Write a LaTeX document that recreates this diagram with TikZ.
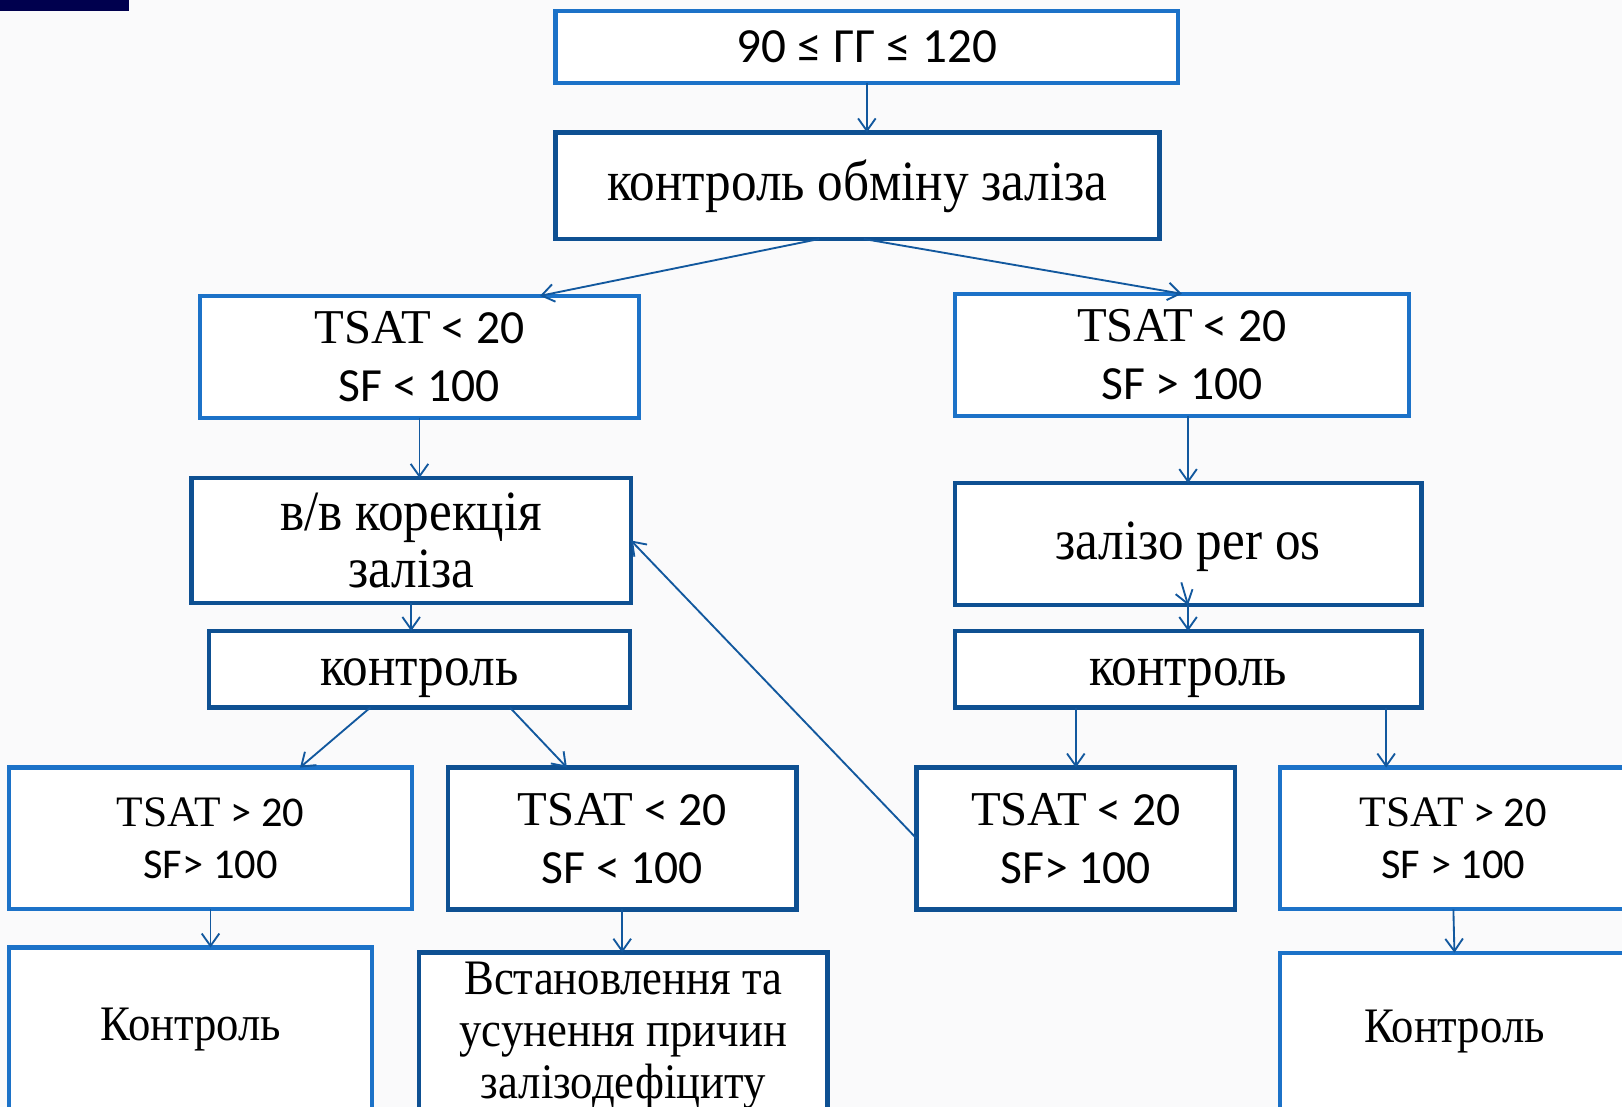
\documentclass[tikz,border=0pt]{standalone}
\usepackage{fontspec}
\setmainfont{Liberation Serif}[FakeStretch=0.9]
\newfontfamily\tsfont{Liberation Serif}
\newfontfamily\calib{Carlito}
\usepackage{tikz}
\usetikzlibrary{arrows.meta}

\definecolor{lblue}{RGB}{28,114,200}
\definecolor{dblue}{RGB}{14,80,146}
\definecolor{arrblue}{RGB}{18,88,158}
\definecolor{navy}{RGB}{0,0,78}
\definecolor{bgpaper}{RGB}{250,250,251}

\newcommand{\tsbig}[2]{{\tsfont\fontsize{47}{56}\selectfont TSAT}{\calib\fontsize{46}{56}\selectfont\ #1}\\{\calib\fontsize{46}{56}\selectfont #2}}
\newcommand{\tssm}[2]{{\tsfont\fontsize{42}{50}\selectfont TSAT}{\calib\fontsize{41}{50}\selectfont\ #1}\\{\calib\fontsize{41}{50}\selectfont #2}}

\begin{document}
\begin{tikzpicture}[x=1pt,y=-1pt,
	>={Straight Barb[length=12pt,width=17pt]},
	lbox/.style={draw=lblue,line width=4pt,fill=white,align=center,inner sep=0pt,outer sep=0pt},
	dbox/.style={draw=dblue,line width=4.4pt,fill=white,align=center,inner sep=0pt,outer sep=0pt},
	bigtxt/.style={font=\fontsize{55}{55}\selectfont},
	smtxt/.style={font=\fontsize{48}{50}\selectfont},
	tsb/.style={font=\fontsize{46}{56}\selectfont},
	tss/.style={font=\fontsize{41}{50}\selectfont},
	oneline/.style={text height=#1,text depth=0pt},
	conn/.style={->,draw=arrblue,line width=1.8pt}]
	%\draw[help lines] (0,0) grid[step=100] (1568,1070);
	\useasboundingbox (0,0) rectangle (1568,1070);
	\clip (0,0) rectangle (1568,1070);
	\fill[bgpaper] (0,0) rectangle (1568,1070);
	\fill[navy] (0,0) rectangle (125,11);

	\node[lbox,minimum width=602,minimum height=69] (gg) at (838,45.5) {\calib\fontsize{47.5}{50}\selectfont 90 ≤ ГГ ≤ 120};
	\node[dbox,bigtxt,oneline=28pt,minimum width=584,minimum height=103] (iron) at (829,179.5) {контроль обміну заліза};
	\node[lbox,tsb,minimum width=425,minimum height=118] (lowA) at (405.5,345) {\tsbig{< 20}{SF < 100}};
	\node[lbox,tsb,minimum width=439,minimum height=118] (highA) at (1142.5,343) {\tsbig{< 20}{SF > 100}};
	\node[dbox,bigtxt,minimum width=425,minimum height=121] (ivfe) at (397.5,522.5) {в/в корекція\\заліза};
	\node[dbox,bigtxt,oneline=29pt,minimum width=451,minimum height=118] (orfe) at (1148.5,526) {залізо per os};
	\node[dbox,bigtxt,oneline=31pt,minimum width=407,minimum height=74] (ctrlL) at (405.5,647) {контроль};
	\node[dbox,bigtxt,oneline=31pt,minimum width=451,minimum height=74] (ctrlR) at (1148.5,647) {контроль};
	\node[lbox,tss,minimum width=389,minimum height=137] (okL) at (203.5,810.5) {\tssm{> 20}{SF> 100}};
	\node[dbox,tsb,minimum width=337,minimum height=137] (lowL) at (601.5,810.5) {\tsbig{< 20}{SF < 100}};
	\node[dbox,tsb,minimum width=308,minimum height=137] (lowR) at (1040,810.5) {\tsbig{< 20}{SF> 100}};
	\node[lbox,tss,minimum width=336,minimum height=137] (okR) at (1405,810.5) {\tssm{> 20}{SF > 100}};
	\node[lbox,smtxt,oneline=22pt,minimum width=351,minimum height=158] (endL) at (184.5,995) {Контроль};
	\node[dbox,smtxt,minimum width=395,minimum height=160] (endM) at (602.5,1001) {Встановлення та\\усунення причин\\залізодефіциту};
	\node[lbox,smtxt,oneline=22pt,minimum width=338,minimum height=152] (endR) at (1406,997) {Контроль};
	\coordinate (stray) at (1142,563);

	\draw[conn] (gg.south) -- (gg.south |- iron.north);
	\draw[conn] ([xshift=-37pt]iron.south) -- ([xshift=116.5pt]lowA.north);
	\draw[conn] ([xshift=6pt]iron.south) -- (highA.north);
	\draw[conn] (lowA.south) -- (lowA.south |- ivfe.north);
	\draw[conn] (orfe.north |- highA.south) -- (orfe.north);
	\draw[conn] (ivfe.south) -- (ivfe.south |- ctrlL.north);
	\draw[conn] (orfe.south) -- (ctrlR.north);
	\draw[conn] (stray) -- (orfe.south);
	\draw[conn] ([xshift=-47.5pt]ctrlL.south) -- ([xshift=86.5pt]okL.north);
	\draw[conn] ([xshift=87.5pt]ctrlL.south) -- ([xshift=-53.5pt]lowL.north);
	\draw[conn] (lowR.north |- ctrlR.south) -- (lowR.north);
	\draw[conn] ([xshift=191.5pt]ctrlR.south) -- ([xshift=191.5pt]ctrlR.south |- okR.north);
	\draw[conn] (lowR.west) -- (ivfe.east);
	\draw[conn] (okL.south) -- (okL.south |- endL.north);
	\draw[conn] (lowL.south) -- (lowL.south |- endM.north);
	\draw[conn] (okR.south) -- (endR.north);
\end{tikzpicture}
\end{document}
